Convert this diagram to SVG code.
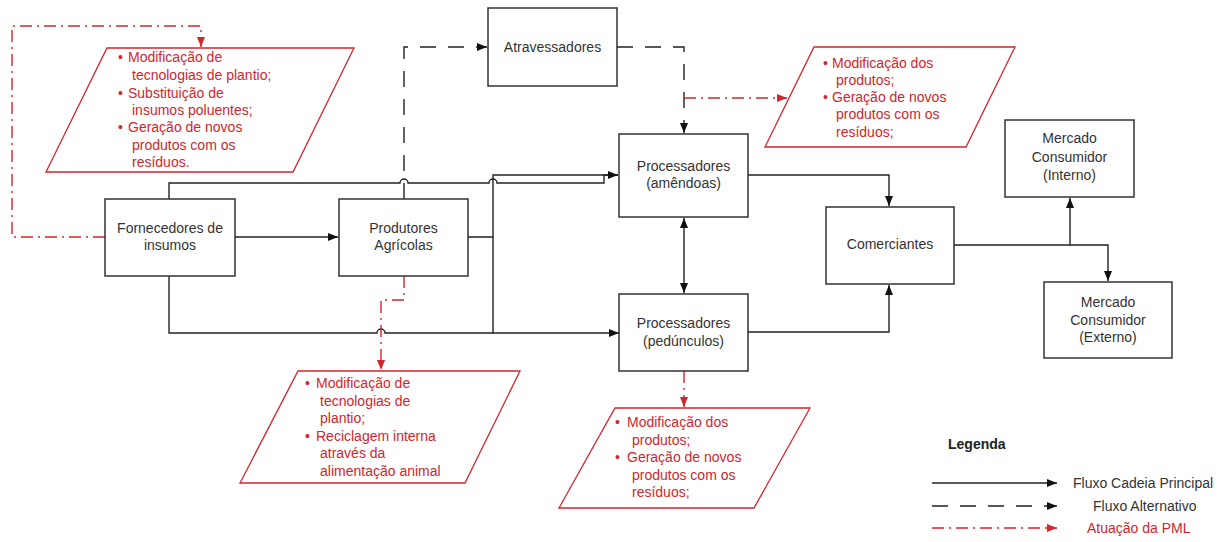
<svg xmlns="http://www.w3.org/2000/svg" width="1223" height="542" viewBox="0 0 1223 542">
<defs>
<marker id="ab" markerUnits="userSpaceOnUse" markerWidth="11" markerHeight="9" refX="10" refY="4" orient="auto-start-reverse"><path d="M0,0 L10,4 L0,8 z" fill="#111"/></marker>
<marker id="ar" markerUnits="userSpaceOnUse" markerWidth="11" markerHeight="9" refX="10" refY="4" orient="auto"><path d="M0,0 L10,4 L0,8 z" fill="#d0262e"/></marker>
<style>
.box{fill:#fff;stroke:#333;stroke-width:1.5}
.pg{fill:#fff;stroke:#d0262e;stroke-width:1.3}
.t{font-family:"Liberation Sans",Arial,sans-serif;font-size:14px;fill:#333}
.tm{text-anchor:middle}
.r{font-family:"Liberation Sans",Arial,sans-serif;font-size:14px;fill:#d0262e}
.s{fill:none;stroke:#222;stroke-width:1.4}
.d{fill:none;stroke:#222;stroke-width:1.4;stroke-dasharray:16,12}
.rd{fill:none;stroke:#d0262e;stroke-width:1.4;stroke-dasharray:12,5,2,5}
</style>
</defs>
<rect width="1223" height="542" fill="#fff"/>

<g id="connectors">
<path class="s" d="M235,237 L338,237" marker-end="url(#ab)"/>
<path class="s" d="M169,199 L169,183 L400,183 A4,4 0 0 1 408,183 L489,183 A4,4 0 0 1 497,183 L604,183 L604,175 L618,175"/>
<path class="s" d="M468,237 L493,237 L493,175 L618,175" marker-end="url(#ab)"/>
<path class="s" d="M493,237 L493,333 L619,333" marker-end="url(#ab)"/>
<path class="s" d="M169,276 L169,333 L377,333 A4,4 0 0 1 385,333 L493,333"/>
<path class="d" d="M404,199 L404,47 L487,47" marker-end="url(#ab)"/>
<path class="d" d="M617,47 L684,47 L684,133" marker-end="url(#ab)"/>
<path class="s" d="M684,218 L684,293" marker-start="url(#ab)" marker-end="url(#ab)"/>
<path class="s" d="M748,175 L889,175 L889,206" marker-end="url(#ab)"/>
<path class="s" d="M748,332 L889,332 L889,285" marker-end="url(#ab)"/>
<path class="s" d="M954,245 L1070,245 L1070,198" marker-end="url(#ab)"/>
<path class="s" d="M1070,245 L1108,245 L1108,281" marker-end="url(#ab)"/>
<path class="rd" d="M105,237 L12,237 L12,26 L201,26 L201,47" marker-end="url(#ar)"/>
<path class="rd" d="M404,276 L404,300 L381,300 L381,370" marker-end="url(#ar)"/>
<path class="rd" d="M684,98 L787,98" marker-end="url(#ar)"/>
<path class="rd" d="M684,371 L684,407" marker-end="url(#ar)"/>
</g>

<g id="fornecedores">
<rect class="box" x="105" y="199" width="130" height="77"/>
<text class="t tm" x="170" y="233">Fornecedores de</text>
<text class="t tm" x="170" y="250">insumos</text>
</g>
<g id="produtores">
<rect class="box" x="339" y="199" width="129" height="77"/>
<text class="t tm" x="403.5" y="233">Produtores</text>
<text class="t tm" x="403.5" y="250">Agrícolas</text>
</g>
<g id="atravessadores">
<rect class="box" x="488" y="8" width="129" height="78"/>
<text class="t tm" x="552.5" y="52">Atravessadores</text>
</g>
<g id="proc-amendoas">
<rect class="box" x="619" y="134" width="129" height="83"/>
<text class="t tm" x="683.5" y="171">Processadores</text>
<text class="t tm" x="683.5" y="188">(amêndoas)</text>
</g>
<g id="proc-pedunculos">
<rect class="box" x="619" y="294" width="129" height="77"/>
<text class="t tm" x="683.5" y="328">Processadores</text>
<text class="t tm" x="683.5" y="346">(pedúnculos)</text>
</g>
<g id="comerciantes">
<rect class="box" x="826" y="207" width="128" height="77"/>
<text class="t tm" x="890" y="249">Comerciantes</text>
</g>
<g id="mercado-interno">
<rect class="box" x="1005" y="120" width="129" height="77"/>
<text class="t tm" x="1069.5" y="143">Mercado</text>
<text class="t tm" x="1069.5" y="162">Consumidor</text>
<text class="t tm" x="1069.5" y="180">(Interno)</text>
</g>
<g id="mercado-externo">
<rect class="box" x="1044" y="282" width="128" height="76"/>
<text class="t tm" x="1108" y="307">Mercado</text>
<text class="t tm" x="1108" y="325">Consumidor</text>
<text class="t tm" x="1108" y="342">(Externo)</text>
</g>

<g id="pml-fornecedores">
<polygon class="pg" points="107,48 354,48 293,172 46,172"/>
<text class="r" x="118" y="62">•</text><text class="r" x="128" y="62">Modificação de</text>
<text class="r" x="132" y="80">tecnologias de plantio;</text>
<text class="r" x="118" y="98">•</text><text class="r" x="128" y="98">Substituição de</text>
<text class="r" x="132" y="115">insumos poluentes;</text>
<text class="r" x="118" y="132">•</text><text class="r" x="128" y="132">Geração de novos</text>
<text class="r" x="132" y="150">produtos com os</text>
<text class="r" x="132" y="167">resíduos.</text>
</g>
<g id="pml-amendoas">
<polygon class="pg" points="814,47 1015,47 966,147 765,147"/>
<text class="r" x="823" y="68">•</text><text class="r" x="832" y="68">Modificação dos</text>
<text class="r" x="836" y="85">produtos;</text>
<text class="r" x="823" y="102">•</text><text class="r" x="832" y="102">Geração de novos</text>
<text class="r" x="836" y="119">produtos com os</text>
<text class="r" x="836" y="137">resíduos;</text>
</g>
<g id="pml-produtores">
<polygon class="pg" points="298,371 520,371 465,483 240,483"/>
<text class="r" x="305" y="388">•</text><text class="r" x="316" y="388">Modificação de</text>
<text class="r" x="320" y="406">tecnologias de</text>
<text class="r" x="320" y="423">plantio;</text>
<text class="r" x="305" y="441">•</text><text class="r" x="316" y="441">Reciclagem interna</text>
<text class="r" x="320" y="458">através da</text>
<text class="r" x="320" y="476">alimentação animal</text>
</g>
<g id="pml-pedunculos">
<polygon class="pg" points="615,408 810,408 754,508 559,508"/>
<text class="r" x="615" y="427">•</text><text class="r" x="627" y="427">Modificação dos</text>
<text class="r" x="632" y="445">produtos;</text>
<text class="r" x="615" y="462">•</text><text class="r" x="627" y="462">Geração de novos</text>
<text class="r" x="632" y="480">produtos com os</text>
<text class="r" x="632" y="497">resíduos;</text>
</g>

<g id="legenda">
<text class="t" x="948" y="449" style="font-weight:bold;fill:#222">Legenda</text>
<path class="s" d="M932,483 L1057,483" marker-end="url(#ab)"/>
<text class="t" x="1073" y="488">Fluxo Cadeia Principal</text>
<path class="d" d="M932,506 L1057,506" style="stroke-dasharray:16,12" marker-end="url(#ab)"/>
<text class="t" x="1093" y="511">Fluxo Alternativo</text>
<path class="rd" d="M932,528 L1057,528" marker-end="url(#ar)"/>
<text class="r" x="1087" y="533">Atuação da PML</text>
</g>
</svg>
